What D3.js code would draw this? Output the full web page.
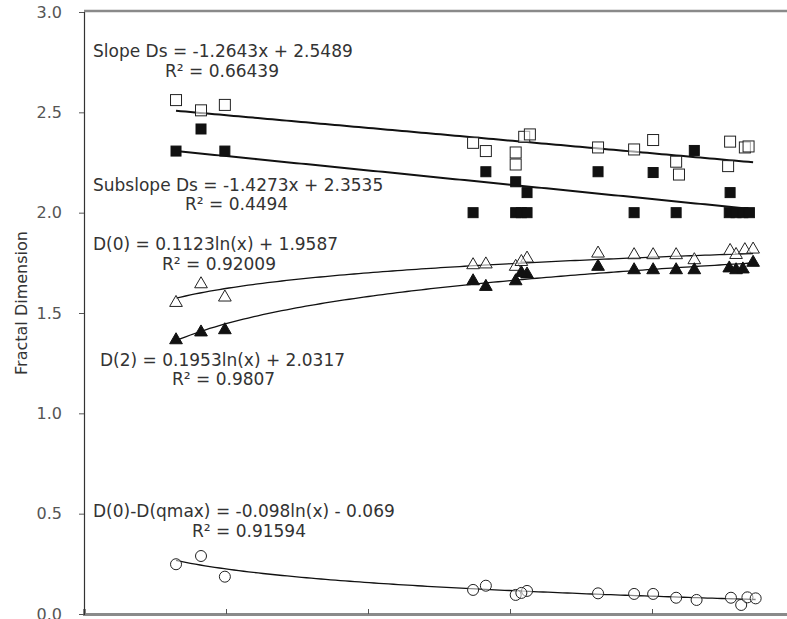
<!DOCTYPE html>
<html>
<head>
<meta charset="utf-8">
<script src="https://cdn.jsdelivr.net/npm/d3@7"></script>
<style>
  html, body { margin: 0; padding: 0; background: #fff; }
  svg { display: block; }
  text { font-family: "DejaVu Sans", Verdana, sans-serif; }
</style>
</head>
<body>
<div id="chart"></div>
<script>
// ---------- data ----------
const yTicks = [0, 0.5, 1.0, 1.5, 2.0, 2.5, 3.0];
const xTicks = [0.05, 0.10, 0.15, 0.20];
const yLabel = "Fractal Dimension";

// Slope Ds (open squares)
const slopeDs = [
  [0.0324, 2.561], [0.0412, 2.51], [0.0496, 2.537],
  [0.137, 2.348], [0.1415, 2.307], [0.152, 2.30], [0.152, 2.24], [0.155, 2.378], [0.157, 2.39],
  [0.181, 2.325], [0.1937, 2.315], [0.2004, 2.362], [0.2085, 2.254], [0.2095, 2.19],
  [0.2275, 2.354], [0.2268, 2.232], [0.2327, 2.325], [0.2340, 2.33]
];
// Subslope Ds (filled squares)
const subslopeDs = [
  [0.0324, 2.307], [0.0412, 2.417], [0.0496, 2.307],
  [0.137, 2.0], [0.1415, 2.204], [0.152, 2.154], [0.156, 2.10], [0.152, 2.0], [0.154, 2.0], [0.156, 2.0],
  [0.181, 2.204], [0.1937, 2.0], [0.2004, 2.2], [0.2085, 2.0], [0.2149, 2.31],
  [0.2275, 2.10], [0.2272, 2.0], [0.2296, 2.0], [0.232, 2.0], [0.2343, 2.0]
];
// D(0) (open triangles)
const d0 = [
  [0.0324, 1.551], [0.0412, 1.644], [0.0496, 1.578],
  [0.137, 1.739], [0.1415, 1.743], [0.152, 1.731], [0.156, 1.772], [0.154, 1.755],
  [0.181, 1.797], [0.1937, 1.789], [0.2004, 1.789], [0.2085, 1.789], [0.2149, 1.764],
  [0.2275, 1.81], [0.2296, 1.79], [0.2327, 1.814], [0.2356, 1.817]
];
// D(2) (filled triangles)
const d2 = [
  [0.0324, 1.365], [0.0412, 1.404], [0.0496, 1.415],
  [0.137, 1.659], [0.1415, 1.631], [0.152, 1.659], [0.156, 1.693], [0.154, 1.70],
  [0.181, 1.731], [0.1937, 1.714], [0.2004, 1.714], [0.2085, 1.714], [0.2149, 1.714],
  [0.2272, 1.723], [0.2296, 1.714], [0.232, 1.718], [0.2356, 1.751]
];
// D(0)-D(qmax) (open circles)
const dDiff = [
  [0.0324, 0.248], [0.0412, 0.289], [0.0496, 0.186],
  [0.137, 0.12], [0.1415, 0.141], [0.152, 0.095], [0.156, 0.115], [0.154, 0.105],
  [0.181, 0.103], [0.1937, 0.10], [0.2004, 0.10], [0.2085, 0.081], [0.2157, 0.07],
  [0.2278, 0.081], [0.2314, 0.045], [0.2336, 0.083], [0.2365, 0.078]
];

// Trendline coefficients (as printed on the chart)
const trendSlope    = { type: "linear", a: -1.2643, b: 2.5489, x0: 0.0324, x1: 0.2356 };
const trendSubslope = { type: "linear", a: -1.4273, b: 2.3535, x0: 0.0324, x1: 0.2356 };
const trendD0       = { type: "log", a: 0.1123, b: 1.9587, x0: 0.0324, x1: 0.2356 };
const trendD2       = { type: "log", a: 0.1953, b: 2.0317, x0: 0.0324, x1: 0.2356 };
const trendDiff     = { type: "log", a: -0.098, b: -0.069, x0: 0.0324, x1: 0.2365 };

// Labels
const labels = [
  ["Slope Ds = -1.2643x + 2.5489", 93, 57],
  ["R² = 0.66439", 165, 77],
  ["Subslope Ds = -1.4273x + 2.3535", 93, 191],
  ["R² = 0.4494", 185, 210],
  ["D(0) = 0.1123ln(x) + 1.9587", 93, 250],
  ["R² = 0.92009", 162, 270],
  ["D(2) = 0.1953ln(x) + 2.0317", 100, 366],
  ["R² = 0.9807", 172, 385],
  ["D(0)-D(qmax) = -0.098ln(x) - 0.069", 93, 517],
  ["R² = 0.91594", 192, 537]
];

// ---------- chart ----------
const W = 787, H = 619;
const svg = d3.select("#chart").append("svg").attr("width", W).attr("height", H);

const x = d3.scaleLinear().domain([0, 0.25]).range([84, 794]);
const y = d3.scaleLinear().domain([0, 3]).range([614, 12]);

// top frame line
svg.append("line")
  .attr("x1", x(0)).attr("x2", W).attr("y1", y(3) - 1).attr("y2", y(3) - 1)
  .attr("stroke", "#8a8a8a").attr("stroke-width", 2.5);

// bottom axis
const xAxis = svg.append("g").attr("transform", `translate(0,${y(0)})`)
  .call(d3.axisBottom(x).tickValues(xTicks).tickSize(-5).tickFormat(""));
xAxis.select(".domain").attr("stroke", "#8a8a8a").attr("stroke-width", 3);
xAxis.selectAll(".tick line").attr("stroke", "#555");

// left axis
const yAxis = svg.append("g").attr("transform", `translate(${x(0)},0)`)
  .call(d3.axisLeft(y).tickValues(yTicks).tickSize(5).tickPadding(17).tickFormat(d3.format(".1f")));
yAxis.select(".domain").attr("stroke", "#333").attr("stroke-width", 1.2);
yAxis.selectAll(".tick line").attr("stroke", "#555");
yAxis.selectAll(".tick text").attr("fill", "#555").style("font-size", "16px")
  .style("font-family", "'DejaVu Sans', Verdana, sans-serif");

svg.append("text")
  .attr("transform", `translate(27,${303}) rotate(-90)`)
  .attr("text-anchor", "middle")
  .attr("fill", "#333")
  .style("font-size", "16px")
  .text(yLabel);

// trend lines
function trendPoints(t) {
  const n = 120;
  return d3.range(n + 1).map(i => {
    const xv = t.x0 + (t.x1 - t.x0) * i / n;
    const yv = t.type === "linear" ? t.a * xv + t.b : t.a * Math.log(xv) + t.b;
    return [xv, yv];
  });
}
const line = d3.line().x(d => x(d[0])).y(d => y(d[1]));
[[trendSlope, 2], [trendSubslope, 2], [trendD0, 1.3], [trendD2, 1.3], [trendDiff, 1.3]].forEach(([t, w]) => {
  svg.append("path").attr("d", line(trendPoints(t)))
    .attr("fill", "none").attr("stroke", "#111").attr("stroke-width", w);
});

// markers
const mk = "#222";
svg.append("g").selectAll("rect").data(slopeDs).join("rect")
  .attr("x", d => x(d[0]) - 5.5).attr("y", d => y(d[1]) - 5.5)
  .attr("width", 11).attr("height", 11)
  .attr("fill", "#fff").attr("fill-opacity", 0.6).attr("stroke", mk).attr("stroke-width", 1);

svg.append("g").selectAll("rect").data(subslopeDs).join("rect")
  .attr("x", d => x(d[0]) - 5).attr("y", d => y(d[1]) - 5)
  .attr("width", 10).attr("height", 10)
  .attr("fill", "#111").attr("stroke", "#111");

const tri = d3.symbol().type(d3.symbolTriangle).size(70);
svg.append("g").selectAll("path").data(d0).join("path")
  .attr("transform", d => `translate(${x(d[0])},${y(d[1])})`)
  .attr("d", tri)
  .attr("fill", "#fff").attr("fill-opacity", 0.6).attr("stroke", mk).attr("stroke-width", 1);

svg.append("g").selectAll("path").data(d2).join("path")
  .attr("transform", d => `translate(${x(d[0])},${y(d[1])})`)
  .attr("d", tri)
  .attr("fill", "#111").attr("stroke", "#111");

svg.append("g").selectAll("circle").data(dDiff).join("circle")
  .attr("cx", d => x(d[0])).attr("cy", d => y(d[1])).attr("r", 5.5)
  .attr("fill", "#fff").attr("fill-opacity", 0.5).attr("stroke", mk).attr("stroke-width", 1);

// equation labels
svg.append("g").selectAll("text").data(labels).join("text")
  .attr("x", d => d[1]).attr("y", d => d[2])
  .attr("fill", "#333")
  .style("font-size", "17px")
  .text(d => d[0]);
</script>
</body>
</html>
